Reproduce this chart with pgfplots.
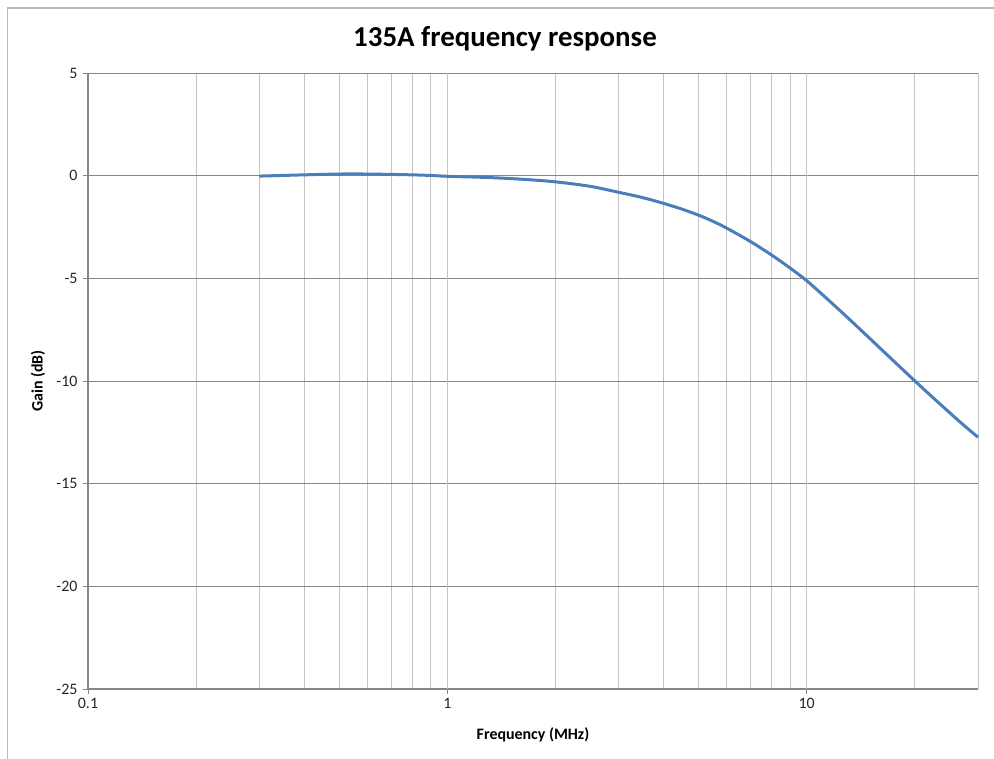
\documentclass[border=0pt]{standalone}
\usepackage{pgfplots}
\pgfplotsset{compat=1.18}
\usepackage{fontspec}
\setmainfont{Carlito}
\definecolor{excelblue}{HTML}{4A7EBB}
\definecolor{majgrid}{HTML}{868686}
\definecolor{mingrid}{HTML}{C4C4C4}
\definecolor{axisgray}{HTML}{868686}
\definecolor{border}{HTML}{B8B8B8}
\begin{document}
\begin{tikzpicture}[x=1bp,y=1bp]
\path[use as bounding box] (0,0) rectangle (994,-759);
\draw[border, line width=1.2bp] (7.5,-759) -- (7.5,-8) -- (994,-8);
\begin{axis}[
  at={(88bp,-689bp)}, anchor=south west,
  scale only axis, width=890bp, height=616bp,
  xmode=log, log basis x=10,
  xmin=0.1, xmax=30, ymin=-25, ymax=5,
  xtick={0.1,1,10}, xticklabels={0.1,1,10},
  minor xtick={0.2,0.3,0.4,0.5,0.6,0.7,0.8,0.9,2,3,4,5,6,7,8,9,20,30},
  ytick={-25,-20,-15,-10,-5,0,5},
  axis x line*=bottom, axis y line*=left,
  axis line style={axisgray, line width=1.5bp, -},
  tick align=outside, major tick length=5bp, minor tick length=0pt,
  tick style={axisgray, line width=0.8bp},
  xmajorgrids=false, xminorgrids=true, ymajorgrids=true,
  minor x grid style={mingrid, line width=1bp},
  major y grid style={majgrid, line width=1bp},
  extra x ticks={1,10}, extra x tick labels={},
  extra x tick style={grid=major, major grid style={mingrid, line width=1bp}, major tick length=5bp},
  ticklabel style={font=\fontsize{16}{18}\selectfont, text=black!85},
  /pgf/number format/assume math mode=true,
  yticklabel style={xshift=-2bp},
  xticklabel style={yshift=-1bp},
  clip=false,
]
\addplot[excelblue, line width=3bp, smooth] coordinates {
(0.3,-0.02) (0.4,0.04) (0.5,0.08) (0.6,0.08) (0.7,0.06) (0.8,0.04) (0.9,0.01)
(1,-0.03) (1.3,-0.09) (1.6,-0.17) (2,-0.3) (2.5,-0.52) (3,-0.81) (3.5,-1.07)
(4,-1.35) (4.5,-1.63) (5,-1.92) (5.5,-2.23) (6,-2.56) (7,-3.22) (8,-3.87) (9,-4.5)
(10,-5.11) (11,-5.75) (12,-6.35) (13,-6.91) (15,-7.93) (17,-8.83) (20,-9.99)
(22,-10.66) (25,-11.54) (27,-12.06) (30,-12.74)
};
\end{axis}
\node[font=\fontsize{29}{33}\selectfont\bfseries] at (505,-39) {135A frequency response};
\node[font=\fontsize{16}{18}\selectfont\bfseries] at (533,-735) {Frequency (MHz)};
\node[font=\fontsize{16}{18}\selectfont\bfseries, rotate=90] at (38,-381) {Gain (dB)};
\end{tikzpicture}
\end{document}
